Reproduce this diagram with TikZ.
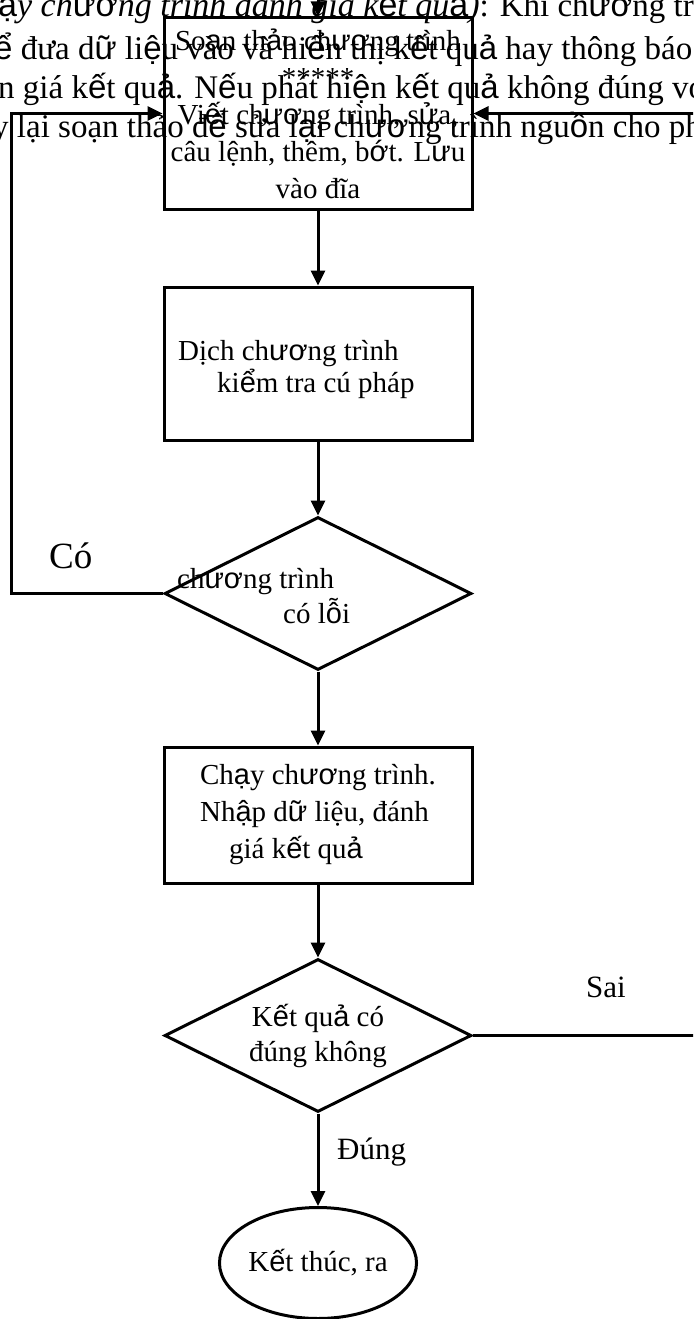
\documentclass[tikz,border=0pt]{standalone}
\usepackage{fontspec}
\setmainfont{Liberation Serif}
\newfontfamily\arfont{Liberation Sans}
\newcommand{\vs}[1]{{\arfont\upshape #1}}
\usetikzlibrary{shapes.geometric,arrows.meta,positioning}
\tikzset{
  flowbox/.style={draw, line width=3pt, rectangle, inner sep=0pt, align=center,
    font=\fontsize{29}{37}\selectfont},
  decision/.style={draw, line width=3pt, diamond, aspect=2, inner sep=0pt, align=center,
    minimum width=307pt, minimum height=153pt, font=\fontsize{29}{35}\selectfont},
  endbox/.style={draw, line width=3pt, ellipse, inner sep=0pt,
    minimum width=193pt, minimum height=111pt, font=\fontsize{29}{35}\selectfont},
  txt/.style={inner sep=0pt, anchor=base west, font=\fontsize{29}{35}\selectfont},
  bgtxt/.style={inner sep=0pt, anchor=base west, font=\fontsize{33}{40}\selectfont},
  flow/.style={line width=3pt, -{Triangle[length=15pt,width=14pt]}},
}
\begin{document}
\begin{tikzpicture}[x=1pt,y=-1pt]
%
\useasboundingbox (0,0) rectangle (693,1319);
\clip (0,0) rectangle (693,1319);
%
% text of the page behind the chart
\node[bgtxt] (bg1) at (-2,17) {{\fontsize{34}{40}\selectfont\itshape \vs{ạ}y ch\vs{ươ}ng trình đánh giá k\vs{ế}t qu\vs{ả})}: Khi ch\vs{ươ}ng trình};
\node[bgtxt] (bg2) at (-6,60) {\vs{ể} đưa d\vs{ữ} li\vs{ệ}u vào và hi\vs{ể}n thị k\vs{ế}t qu\vs{ả} hay thông báo};
\node[bgtxt] (bg3) at (-2,99) {n giá k\vs{ế}t qu\vs{ả}. N\vs{ế}u phát hi\vs{ệ}n k\vs{ế}t qu\vs{ả} không đúng với};
\node[bgtxt] (bg4) at (-8,138) {y lại soạn thảo đ\vs{ể} sửa l\vs{ạ}i ch\vs{ươ}ng trình ngu\vs{ồ}n cho phù hợp};
%
% chart
\node[flowbox, minimum width=308pt, minimum height=191pt] (edit) at (318,113.5)
  {So\vs{ạ}n th\vs{ả}o ch\vs{ươ}ng trình\\*****\\Vi\vs{ế}t ch\vs{ươ}ng trình, s\vs{ử}a,\\câu lệnh, thêm, b\vs{ớ}t. L\vs{ư}u\\vào đĩa};
\node[flowbox, minimum width=308pt, minimum height=153pt] (compile) at (318,363.5) {};
\node[txt] (compile1) at (178,360) {Dịch ch\vs{ươ}ng trình};
\node[txt] (compile2) at (217,392) {ki\vs{ể}m tra cú pháp};
\node[decision] (haserr) at (318,593.5) {};
\node[txt] (haserr1) at (177,588) {ch\vs{ươ}ng trình};
\node[txt] (haserr2) at (283,623) {có l\vs{ỗ}i};
\node[flowbox, minimum width=308pt, minimum height=136pt, align=left] (run) at (318,815)
  {Ch\vs{ạ}y ch\vs{ươ}ng trình.\\Nh\vs{ậ}p d\vs{ữ} liệu, đánh\\\hspace*{29pt}giá k\vs{ế}t qu\vs{ả}};
\node[decision] (isok) at (318,1035.5) {K\vs{ế}t qu\vs{ả} có\\đúng không};
\node[endbox] (stop) at (318,1263) {K\vs{ế}t thúc, ra};
%
\node[inner sep=0pt, anchor=base west, font=\fontsize{37}{40}\selectfont] (yes) at (49,568) {Có};
\node[inner sep=0pt, anchor=base west, font=\fontsize{31}{35}\selectfont] (wrong) at (586,997) {Sai};
\node[inner sep=0pt, anchor=base west, font=\fontsize{31}{35}\selectfont] (right) at (337,1159) {Đúng};
%
\coordinate (in) at (318,-20);
\coordinate (loopL) at (11,113.5);
\coordinate (loopR) at (720,113.5);
%
\draw[flow] (in) -- (edit.north);
\draw[flow] (edit) -- (compile);
\draw[flow] (compile) -- (haserr);
\draw[flow] (haserr) -- (run);
\draw[flow] (run) -- (isok);
\draw[flow] (isok) -- (stop);
\draw[flow] (haserr.west) -| (loopL) -- (edit.west);
\draw[flow] (isok.east) -| (loopR) -- (edit.east);
%
\end{tikzpicture}
\end{document}
